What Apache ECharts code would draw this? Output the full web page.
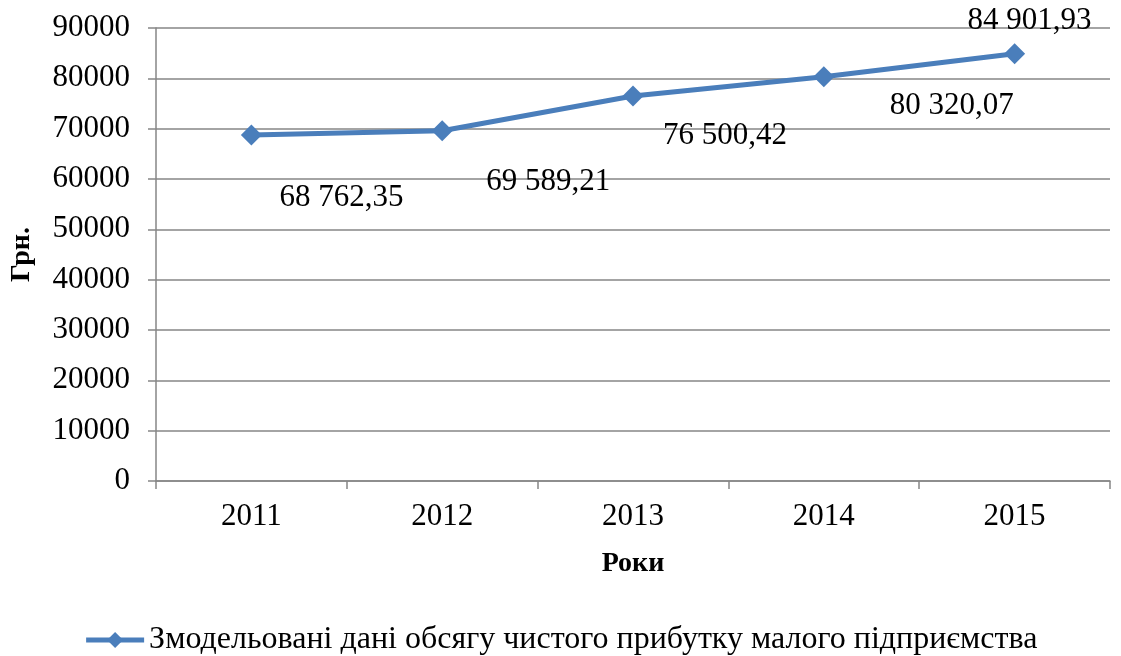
<!DOCTYPE html>
<html>
<head>
<meta charset="utf-8">
<script src="https://cdn.jsdelivr.net/npm/echarts@6/dist/echarts.min.js"></script>
<style>
  html, body { margin: 0; padding: 0; background: #fff; }
  #chart { width: 1121px; height: 656px; }
</style>
</head>
<body>
<div id="chart"></div>
<script>
// Years and modelled net profit values (UAH)
const years = ['2011', '2012', '2013', '2014', '2015'];
const profit = [68762.35, 69589.21, 76500.42, 80320.07, 84901.93];
const seriesName = 'Змодельовані дані обсягу чистого прибутку малого підприємства';
const yTicks = { min: 0, max: 90000, interval: 10000 };

// Where each value label sits relative to its point
const labelOffsets = [[90, 63], [106, 51], [92, 40], [128, 29], [15, -33]];

// "68 762,35" style: space for thousands, comma for decimals
function fmt(v) {
  const parts = v.toFixed(2).split('.');
  const intPart = parts[0].replace(/\B(?=(\d{3})+(?!\d))/g, ' ');
  return intPart + ',' + parts[1];
}

const FONT = '"Liberation Serif", "Times New Roman", serif';
const BLUE = '#4A7EBB';
const GRAY = '#868686';

const chart = echarts.init(document.getElementById('chart'));
chart.setOption({
  backgroundColor: '#ffffff',
  animation: false,
  textStyle: { fontFamily: FONT, color: '#000' },
  grid: { left: 155, right: 11, top: 28, bottom: 175, containLabel: false },
  legend: {
    data: [seriesName],
    left: 'center',
    top: 619,
    itemWidth: 58,
    itemHeight: 20,
    itemGap: 4,
    lineStyle: { width: 5, color: BLUE },
    textStyle: { fontFamily: FONT, fontSize: 32, color: '#000' }
  },
  xAxis: {
    type: 'category',
    data: years,
    boundaryGap: true,
    name: 'Роки',
    nameLocation: 'middle',
    nameGap: 69,
    nameTextStyle: { fontFamily: FONT, fontSize: 28, fontWeight: 'bold', color: '#000' },
    axisLine: { lineStyle: { color: GRAY, width: 1.5 } },
    axisTick: { show: true, alignWithLabel: false, length: 8, lineStyle: { color: GRAY, width: 1.5 } },
    axisLabel: { fontFamily: FONT, fontSize: 31, color: '#000', margin: 20 }
  },
  yAxis: {
    type: 'value',
    min: yTicks.min,
    max: yTicks.max,
    interval: yTicks.interval,
    name: 'Грн.',
    nameLocation: 'middle',
    nameGap: 120,
    nameRotate: 90,
    nameTextStyle: { fontFamily: FONT, fontSize: 28, fontWeight: 'bold', color: '#000' },
    axisLine: { show: true, lineStyle: { color: GRAY, width: 1.5 } },
    axisTick: { show: true, length: 8, lineStyle: { color: GRAY, width: 1.5 } },
    axisLabel: { fontFamily: FONT, fontSize: 31, color: '#000', margin: 26, formatter: v => String(v) },
    splitLine: { show: true, lineStyle: { color: GRAY, width: 1.5 } }
  },
  series: [{
    name: seriesName,
    type: 'line',
    data: profit.map((v, i) => ({
      value: v,
      label: { offset: labelOffsets[i] }
    })),
    symbol: 'diamond',
    symbolSize: 21,
    lineStyle: { color: BLUE, width: 5 },
    itemStyle: { color: BLUE },
    label: {
      show: true,
      position: 'inside',
      fontFamily: FONT,
      fontSize: 31,
      color: '#000',
      formatter: p => fmt(p.value)
    }
  }]
});
</script>
</body>
</html>
